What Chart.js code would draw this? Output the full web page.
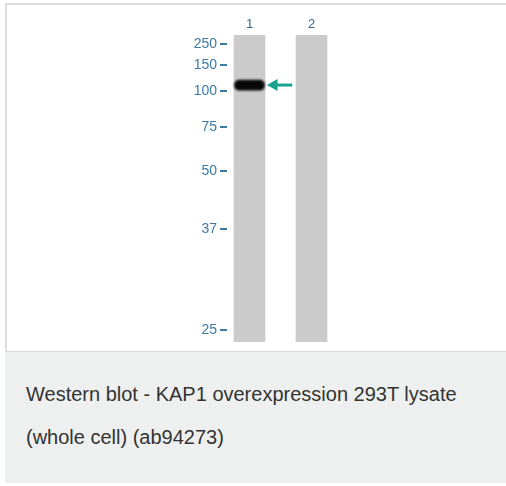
<!DOCTYPE html>
<html>
<head>
<meta charset="utf-8">
<script src="https://cdn.jsdelivr.net/npm/chart.js@4"></script>
<style>
  html, body { margin: 0; padding: 0; background: #fff; }
  body { width: 506px; height: 486px; overflow: hidden; position: relative; font-family: "Liberation Sans", Arial, sans-serif; }
  #card { position: absolute; left: 5px; top: 3px; width: 501px; border-left: 2px solid #dddddd; border-top: 2px solid #dddddd; }
  #blot { position: relative; height: 346px; background: #fff; }
  #blotWrap { position: absolute; left: 0; top: 0; width: 499px; height: 344px; }
  #caption { margin-left: -2px; background: #eef0ef; border-top: 1px solid #dcdcdc; height: 132px; box-sizing: border-box; padding: 21px 0 0 21px; color: #333; font-size: 20px; line-height: 43px; }
</style>
</head>
<body>
<div id="card">
  <div id="blot"><div id="blotWrap"><canvas id="blotChart"></canvas></div></div>
  <div id="caption">Western blot - KAP1 overexpression 293T lysate<br>(whole cell) (ab94273)</div>
</div>
<script>
// lanes, marker ladder (kDa) and where each marker ran (0 = top of gel, 100 = bottom)
const laneNames = ['1', '2'];
const laneSpan = [0, 100];
const markerKDa = ['250', '150', '100', '75', '50', '37', '25'];
const markerPos = [2.9, 9.8, 18.2, 30.0, 44.3, 63.2, 96.1];
// KAP1 band seen in lane 1 only
const bandLane = 1;
const bandSpan = [14.7, 18.0];
// arrow pointing at the band
const arrowHeadX = [1.395];
const arrowShaftX = [1.43, 1.69];
const arrowY = 16.3;

const blue = '#3d7aa6';
const teal = '#19a38f';

const blurPlugin = {
  id: 'bandBlur',
  beforeDatasetDraw(chart, args) {
    if (args.index !== 0) return;
    chart.ctx.save();
    chart.ctx.filter = 'blur(1.2px)';
  },
  afterDatasetDraw(chart, args) {
    if (args.index !== 0) return;
    chart.ctx.restore();
  }
};

new Chart(document.getElementById('blotChart'), {
  type: 'bar',
  data: {
    datasets: [
      {
        label: 'KAP1',
        data: [{ x: bandLane, y: bandSpan }],
        backgroundColor: '#080808',
        barThickness: 30,
        borderRadius: 5,
        borderSkipped: false,
        grouped: false,
        order: 0
      },
      {
        type: 'line',
        label: 'arrow shaft',
        data: arrowShaftX.map(function (x) { return { x: x, y: arrowY }; }),
        borderColor: teal,
        borderWidth: 3,
        pointRadius: 0,
        order: 0
      },
      {
        type: 'scatter',
        label: 'arrow head',
        data: arrowHeadX.map(function (x) { return { x: x, y: arrowY }; }),
        pointStyle: 'triangle',
        rotation: -90,
        pointRadius: 7,
        backgroundColor: teal,
        borderWidth: 0,
        order: 0
      },
      {
        label: 'lanes',
        data: laneNames.map(function (n, i) { return { x: i + 1, y: laneSpan }; }),
        backgroundColor: '#cbcbcb',
        barThickness: 31,
        grouped: false,
        order: 2
      }
    ]
  },
  options: {
    responsive: true,
    maintainAspectRatio: false,
    animation: false,
    layout: { padding: { left: 0, top: 0, right: 163, bottom: 7 } },
    plugins: { legend: { display: false }, tooltip: { enabled: false } },
    scales: {
      x: {
        type: 'linear',
        position: 'top',
        offset: false,
        min: 0.637,
        max: 2.508,
        afterBuildTicks: function (scale) {
          scale.ticks = laneNames.map(function (n, i) { return { value: i + 1 }; });
        },
        afterFit: function (scale) {
          scale.height = 30;
          scale.paddingLeft = 0;
          scale.paddingRight = 0;
        },
        ticks: {
          color: '#35678f',
          padding: 3,
          font: { family: 'Liberation Sans', size: 13 },
          callback: function (v) { return laneNames[Math.round(v) - 1] || ''; }
        },
        grid: { display: false, drawTicks: false, offset: false },
        border: { display: false }
      },
      y: {
        type: 'linear',
        reverse: true,
        min: 0,
        max: 100,
        afterBuildTicks: function (scale) {
          scale.ticks = markerPos.map(function (p) { return { value: p }; });
        },
        afterFit: function (scale) {
          scale.width = 220;
          scale.paddingTop = 0;
          scale.paddingBottom = 0;
        },
        ticks: {
          color: blue,
          padding: 3,
          font: { family: 'Liberation Sans', size: 14 },
          callback: function (v, i) { return markerKDa[i]; }
        },
        grid: { drawOnChartArea: false, tickLength: 7, lineWidth: 2, color: blue },
        border: { display: false }
      }
    }
  },
  plugins: [blurPlugin]
});
</script>
</body>
</html>
